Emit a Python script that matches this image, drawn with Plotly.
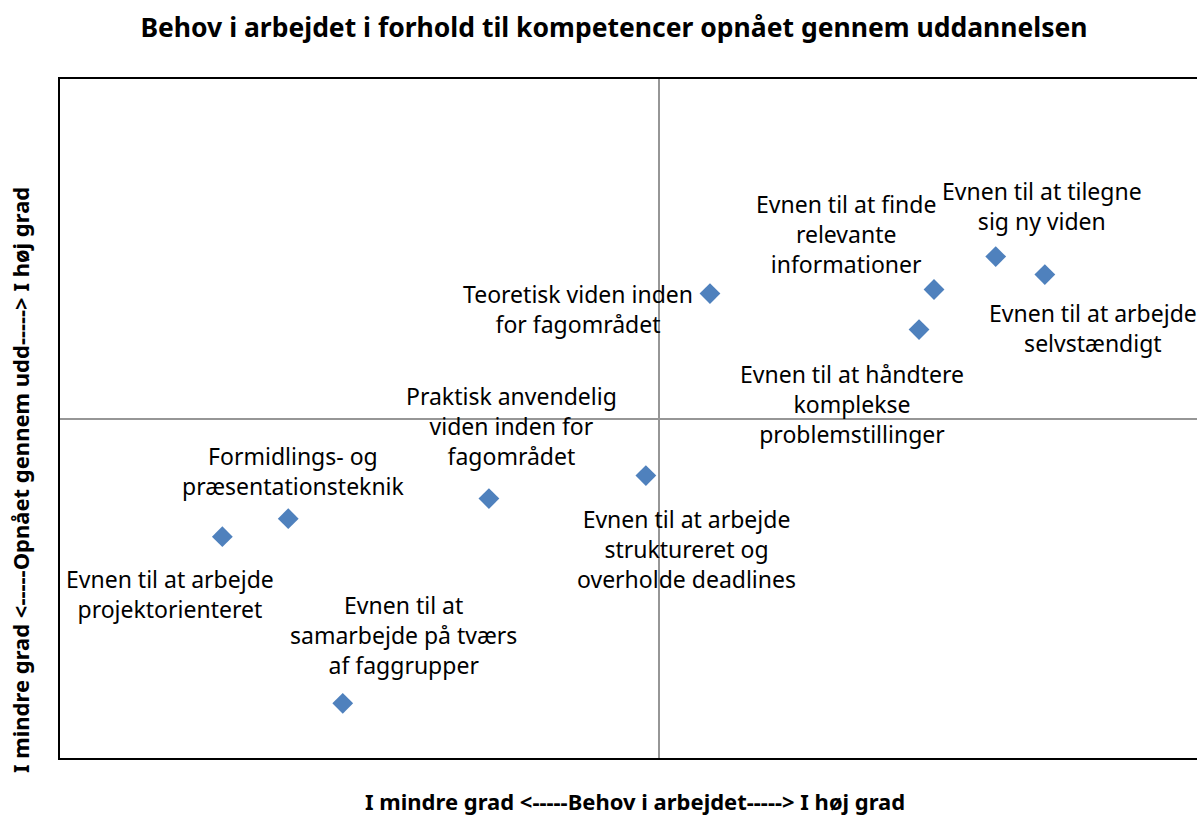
import plotly.graph_objects as go

# Data (relative position: 0 = quadrant crossing)
labels = [
    "Teoretisk viden inden<br>for fagområdet",
    "Evnen til at finde<br>relevante<br>informationer",
    "Evnen til at tilegne<br>sig ny viden",
    "Evnen til at arbejde<br>selvstændigt",
    "Evnen til at håndtere<br>komplekse<br>problemstillinger",
    "Praktisk anvendelig<br>viden inden for<br>fagområdet",
    "Evnen til at arbejde<br>struktureret og<br>overholde deadlines",
    "Formidlings- og<br>præsentationsteknik",
    "Evnen til at arbejde<br>projektorienteret",
    "Evnen til at<br>samarbejde på tværs<br>af faggrupper",
]
behov = [0.085, 0.459, 0.562, 0.644, 0.434, -0.284, -0.022, -0.619, -0.729, -0.528]
opnaaet = [0.368, 0.380, 0.477, 0.424, 0.262, -0.236, -0.168, -0.295, -0.348, -0.839]

# label placement offsets in pixels (dx, dy)
label_offsets = [(-132, -15), (-88, 55), (46, 51), (48, -53), (-67, -74),
                 (23, 73), (41, -73), (5, 48), (-52, -57), (61, 68)]

FONT = "Noto Sans"

fig = go.Figure()
fig.add_trace(go.Scatter(
    x=behov, y=opnaaet, mode="markers",
    marker=dict(symbol="diamond", size=16, color="#4F81BD",
                line=dict(width=0)),
    hoverinfo="skip", showlegend=False,
))

for xv, yv, lab, (dx, dy) in zip(behov, opnaaet, labels, label_offsets):
    fig.add_annotation(x=xv, y=yv, xref="x", yref="y", text=lab,
                       showarrow=False, xanchor="center", yanchor="middle",
                       xshift=dx, yshift=dy, align="center",
                       font=dict(family=FONT, size=23, color="#000000"))

fig.add_annotation(text="<b>I mindre grad <-----Behov i arbejdet-----> I høj grad</b>",
                   xref="paper", yref="paper", x=(635 - 60) / 1137, y=-43 / 679,
                   xanchor="center", yanchor="middle", showarrow=False,
                   font=dict(family=FONT, size=22, color="#000000"))
fig.add_annotation(text="<b>I mindre grad <-----Opnået gennem udd-----> I høj grad</b>",
                   xref="paper", yref="paper", x=-40 / 1137, y=(758 - 480) / 679,
                   xanchor="center", yanchor="middle", showarrow=False, textangle=-90,
                   font=dict(family=FONT, size=22, color="#000000"))

fig.update_layout(
    width=1197, height=815,
    margin=dict(l=60, r=0, t=79, b=57),
    paper_bgcolor="white", plot_bgcolor="white",
    title=dict(text="<b>Behov i arbejdet i forhold til kompetencer opnået gennem uddannelsen</b>",
               x=614 / 1197, xanchor="center", y=1 - 28 / 815, yanchor="middle",
               font=dict(family=FONT, size=26.5, color="#000000")),
    xaxis=dict(range=[-1, 0.898], showgrid=False, showticklabels=False, ticks="",
               zeroline=True, zerolinecolor="#969696", zerolinewidth=2,
               showline=True, linecolor="#000000", linewidth=2, mirror=True,
               fixedrange=True),
    yaxis=dict(range=[-1, 1], showgrid=False, showticklabels=False, ticks="",
               zeroline=True, zerolinecolor="#969696", zerolinewidth=2,
               showline=True, linecolor="#000000", linewidth=2, mirror=False,
               fixedrange=True),
)

fig.write_html("out.html", config={"displayModeBar": False},
               post_script="document.body.style.margin='0';document.body.style.overflow='hidden';")
